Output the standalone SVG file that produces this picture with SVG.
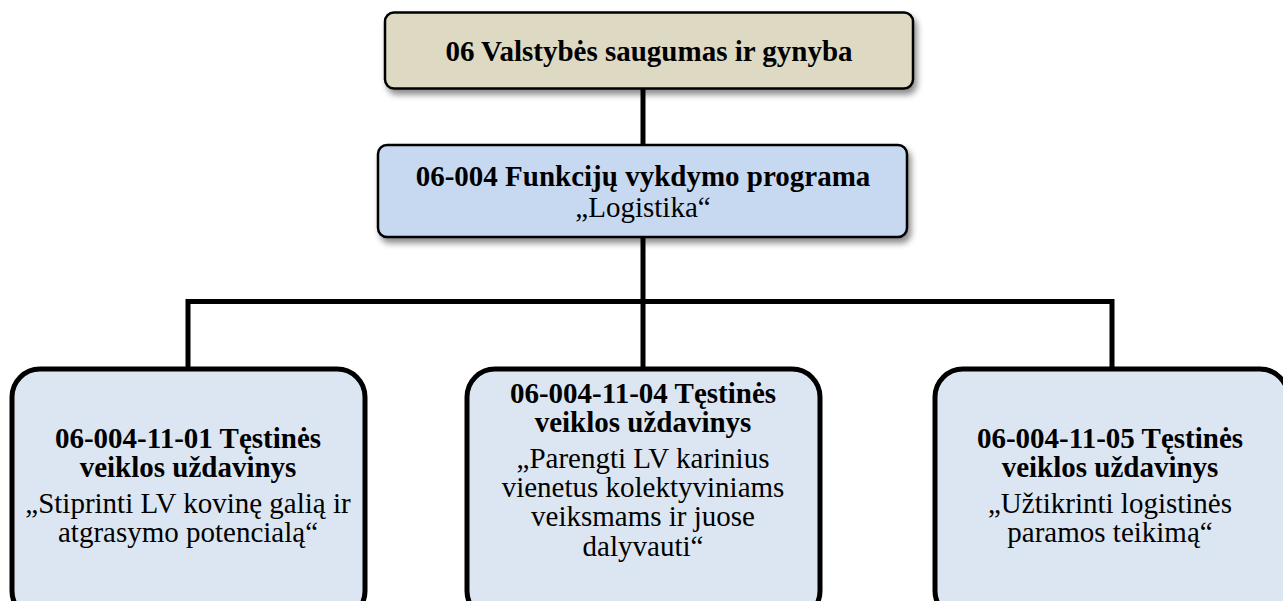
<svg xmlns="http://www.w3.org/2000/svg" width="1283" height="601" viewBox="0 0 1283 601">
<style>
.box{stroke:#000;}
.top{fill:#DDD9C3;stroke-width:2.5;}
.prog{fill:#C6D9F1;stroke-width:2.5;}
.task{fill:#DCE6F2;stroke-width:5;}
text{font-family:'Liberation Serif','Times New Roman',Times,serif;font-size:29px;fill:#000;text-anchor:middle;}
.b{font-weight:bold;}
.conn{fill:none;stroke:#000;stroke-width:5;stroke-linejoin:miter;}
</style>
<defs>
<filter id="sh" x="-10%" y="-20%" width="130%" height="160%">
<feDropShadow dx="3" dy="5" stdDeviation="3" flood-color="#000" flood-opacity="0.45"/>
</filter>
</defs>
<rect width="1283" height="601" fill="#fff"/>
<g id="connectors">
<path class="conn" d="M643 88 V146"/>
<path class="conn" d="M643 236 V368"/>
<path class="conn" d="M188 368 V301.5 H1112 V368"/>
</g>
<g id="n1">
<rect class="box top" x="385" y="12.5" width="528" height="76" rx="9" filter="url(#sh)"/>
<text class="b" x="649" y="61">06 Valstybės saugumas ir gynyba</text>
</g>
<g id="n2">
<rect class="box prog" x="378" y="145" width="529" height="92" rx="9" filter="url(#sh)"/>
<text class="b" x="643" y="186">06-004 Funkcijų vykdymo programa</text>
<text x="643" y="217">„Logistika“</text>
</g>
<g id="n3">
<rect class="box task" x="12" y="369" width="353" height="250" rx="28"/>
<text class="b" x="188" y="448">06-004-11-01 Tęstinės</text>
<text class="b" x="188" y="477">veiklos uždavinys</text>
<text x="188" y="513">„Stiprinti LV kovinę galią ir</text>
<text x="188" y="542">atgrasymo potencialą“</text>
</g>
<g id="n4">
<rect class="box task" x="467" y="369" width="353" height="250" rx="28"/>
<text class="b" x="643" y="403">06-004-11-04 Tęstinės</text>
<text class="b" x="643" y="432">veiklos uždavinys</text>
<text x="643" y="468">„Parengti LV karinius</text>
<text x="643" y="497">vienetus kolektyviniams</text>
<text x="643" y="526">veiksmams ir juose</text>
<text x="643" y="556">dalyvauti“</text>
</g>
<g id="n5">
<rect class="box task" x="935" y="369" width="353" height="250" rx="28"/>
<text class="b" x="1110" y="448">06-004-11-05 Tęstinės</text>
<text class="b" x="1110" y="477">veiklos uždavinys</text>
<text x="1110" y="513">„Užtikrinti logistinės</text>
<text x="1110" y="542">paramos teikimą“</text>
</g>
</svg>
